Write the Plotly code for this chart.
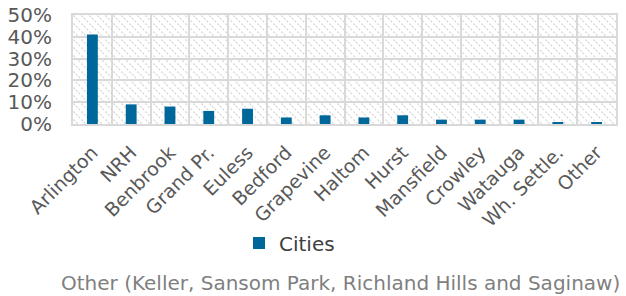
import base64
import plotly.graph_objects as go

cities = ["Arlington", "NRH", "Benbrook", "Grand Pr.", "Euless", "Bedford", "Grapevine",
          "Haltom", "Hurst", "Mansfield", "Crowley", "Watauga", "Wh. Settle.", "Other"]
shares = [41, 9, 8, 6, 7, 3, 4, 3, 4, 2, 2, 2, 0.6, 0.6]
y_ticks = [0, 10, 20, 30, 40, 50]
y_tick_labels = ["0%", "10%", "20%", "30%", "40%", "50%"]
series_name = "Cities"
footnote = "Other (Keller, Sansom Park, Richland Hills and Saginaw)"

W, H = 626, 296
ML, MR, MT, MB = 73, 10, 15, 172
PW, PH = W - ML - MR, H - MT - MB
FONT = "DejaVu Sans, Verdana, sans-serif"

svg = (
    f'<svg xmlns="http://www.w3.org/2000/svg" width="{PW}" height="{PH}" viewBox="0 0 {PW} {PH}">'
    '<defs><pattern id="p" width="8" height="8" patternUnits="userSpaceOnUse">'
    '<path d="M-2,-2 L10,10 M-2,6 L2,10 M6,-2 L10,2" stroke="#d9d9d9" stroke-width="1.3" '
    'stroke-dasharray="2.2,1.3"/></pattern></defs>'
    f'<rect width="{PW}" height="{PH}" fill="white"/>'
    f'<rect width="{PW}" height="{PH}" fill="url(#p)"/></svg>'
)
svg_uri = "data:image/svg+xml;base64," + base64.b64encode(svg.encode()).decode()

fig = go.Figure()
fig.add_trace(go.Bar(
    x=cities, y=shares, name=series_name, width=0.28,
    marker=dict(color="#00679A", line=dict(width=0)),
    showlegend=True,
))

fig.add_layout_image(dict(
    source=svg_uri, xref="paper", yref="paper", x=0, y=1, sizex=1, sizey=1,
    sizing="stretch", xanchor="left", yanchor="top", layer="below",
))


def py(pix):
    return (H - MB - pix) / PH


def px(pix):
    return (pix - ML) / PW


fig.update_layout(
    width=W, height=H,
    margin=dict(l=ML, r=MR, t=MT, b=MB, autoexpand=False),
    paper_bgcolor="white", plot_bgcolor="rgba(0,0,0,0)",
    font=dict(family=FONT, color="#595959"),
    showlegend=True,
    legend=dict(orientation="h", x=px(239), y=py(243), xanchor="left", yanchor="middle",
                font=dict(size=20, color="#404040"), itemwidth=30,
                bgcolor="rgba(0,0,0,0)"),
    bargap=0.72,
)
fig.update_xaxes(
    type="category", tickson="boundaries", showgrid=True, gridcolor="#d9d9d9", gridwidth=2,
    showline=True, linecolor="#d9d9d9", linewidth=2, mirror=True,
    ticks="", tickangle=-45, ticklabelstandoff=8, tickfont=dict(size=19, color="#595959"),
)
fig.update_yaxes(
    range=[0, 50], tickvals=y_ticks, ticktext=y_tick_labels, showgrid=True,
    gridcolor="#d9d9d9", gridwidth=2, zeroline=False,
    showline=True, linecolor="#d9d9d9", linewidth=2, mirror=True,
    ticks="", ticklabelstandoff=15, tickfont=dict(size=20, color="#595959"),
)
fig.add_annotation(
    text=footnote, xref="paper", yref="paper", x=px(340), y=py(283),
    showarrow=False, xanchor="center", yanchor="middle",
    font=dict(size=20, color="#7f7f7f"),
)
fig.write_html("out.html", config={"displayModeBar": False},
               post_script="document.body.style.margin='0';")
